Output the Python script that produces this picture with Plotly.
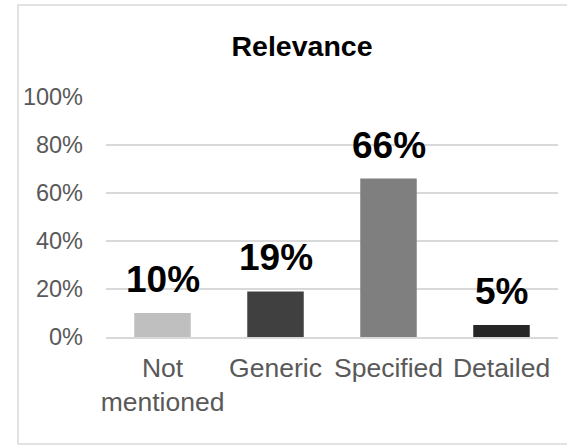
import plotly.graph_objects as go

categories = ["Not<br>mentioned", "Generic", "Specified", "Detailed"]
shares = [0.10, 0.19, 0.66, 0.05]
bar_colors = ["#bfbfbf", "#404040", "#7f7f7f", "#262626"]
y_ticks = [0, 0.2, 0.4, 0.6, 0.8, 1.0]
y_tick_labels = ["0%", "20%", "40%", "60%", "80%", "100%"]

W, H = 567, 445
L, R, T, B = 106, 9, 97, 108
pw, ph = W - L - R, H - T - B

fig = go.Figure(
    go.Bar(
        x=categories,
        y=shares,
        marker=dict(color=bar_colors, line=dict(width=0)),
        hoverinfo="skip",
    )
)

# value labels above each bar
for c, v in zip(categories, shares):
    fig.add_annotation(
        x=c, y=v, xref="x", yref="y",
        text=f"<b>{round(v * 100)}%</b>",
        showarrow=False, yanchor="bottom", yshift=11,
        font=dict(family="Liberation Sans, Arial", size=37, color="#000000"),
    )

# light chart-area frame
def px_x(p):
    return (p - L) / pw

def px_y(p):
    return (H - B - p) / ph

fig.add_shape(
    type="rect", xref="paper", yref="paper",
    x0=px_x(18), x1=px_x(568), y0=px_y(444), y1=px_y(5),
    line=dict(color="#d9d9d9", width=1.5), fillcolor="rgba(0,0,0,0)",
    layer="below",
)

fig.update_layout(
    width=W, height=H,
    margin=dict(l=L, r=R, t=T, b=B, pad=0),
    paper_bgcolor="white", plot_bgcolor="white",
    bargap=0.5,
    showlegend=False,
    title=dict(
        text="<b>Relevance</b>",
        x=302 / W, xanchor="center", xref="container",
        y=1 - 46 / H, yanchor="middle", yref="container",
        font=dict(family="Liberation Sans, Arial", size=28.5, color="#000000"),
    ),
    font=dict(family="Liberation Sans, Arial"),
)

fig.update_xaxes(
    showgrid=False, showline=True, linecolor="#d9d9d9", linewidth=1.5,
    ticks="", ticklabelstandoff=6,
    tickfont=dict(size=26.5, color="#595959"),
)
fig.update_yaxes(
    range=[0, 1], tickvals=y_ticks, ticktext=y_tick_labels,
    showgrid=True, gridcolor="#d9d9d9", gridwidth=1.5,
    zeroline=False, showline=False, ticks="", ticklabelstandoff=22,
    tickfont=dict(size=23.5, color="#595959"),
)

fig.write_html("out.html")
